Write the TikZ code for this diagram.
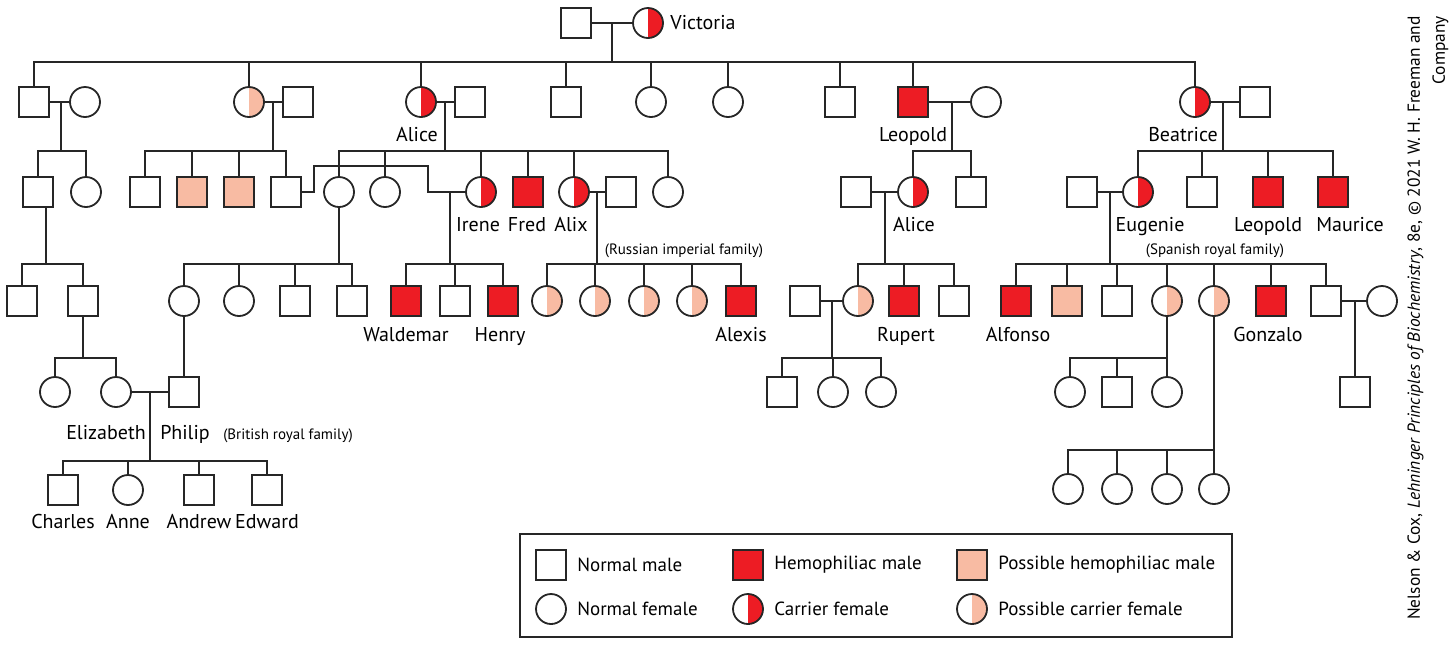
\documentclass[tikz,border=0pt]{standalone}
\usepackage{fontspec}
\setmainfont{PT Sans}
\usetikzlibrary{positioning}
\definecolor{hemored}{RGB}{237,28,36}
\definecolor{hemopink}{RGB}{248,187,163}
\begin{document}
\begin{tikzpicture}[x=0.5pt, y=-0.5pt,
    person/.style={draw=black!85, line width=0.9pt, minimum size=15pt, inner sep=0pt, fill=white},
    male/.style={person, rectangle},
    female/.style={person, circle},
    hemo/.style={male, fill=hemored},
    posshemo/.style={male, fill=hemopink},
    carrier/.style={female, path picture={\fill[hemored] (path picture bounding box.north) rectangle (path picture bounding box.south east);}},
    posscarrier/.style={female, path picture={\fill[hemopink] (path picture bounding box.north) rectangle (path picture bounding box.south east);}},
    tie/.style={draw=black!85, line width=0.9pt},
    lbl/.style={font=\fontsize{10}{12}\selectfont, inner sep=0pt, anchor=base},
    keylbl/.style={font=\fontsize{9.5}{11}\selectfont, inner sep=0pt},
    famnote/.style={font=\fontsize{7.5}{9}\selectfont, inner sep=0pt, anchor=base}
  ]
  \useasboundingbox (0,0) rectangle (1454,645);

  % Victoria and Albert
  \node[male] (albert) at (576,23) {};
  \node[carrier] (victoria) at (648,23) {};
  \node[lbl, anchor=base west] (lVictoria) at (670,29) {Victoria};
  \coordinate (mV) at (612,23);
  \coordinate (bV) at (612,62);

  % Their children and spouses
  \node[male] (edward7) at (34,102) {};
  \node[female] (alexandra) at (85,102) {};
  \node[posscarrier] (vicky) at (249,102) {};
  \node[male] (fritz) at (298,102) {};
  \node[carrier] (alice) at (421,102) {};
  \node[male] (louis) at (470,102) {};
  \node[male] (alfred) at (566,102) {};
  \node[female] (helena) at (651,102) {};
  \node[female] (louise) at (728,102) {};
  \node[male] (arthur) at (840,102) {};
  \node[hemo] (leopold) at (913,102) {};
  \node[female] (helene) at (986,102) {};
  \node[carrier] (beatrice) at (1195,102) {};
  \node[male] (henryB) at (1255,102) {};
  \node[lbl] (lAlice) at (417,141) {Alice};
  \node[lbl] (lLeopold) at (913,141) {Leopold};
  \node[lbl] (lBeatrice) at (1183,141) {Beatrice};

  \draw[tie] (albert) -- (victoria);
  \draw[tie] (mV) -- (bV) (edward7.north) |- (bV) -| (beatrice.north);
  \foreach \c in {vicky,alice,alfred,helena,louise,arthur,leopold}
    \draw[tie] (\c.north) -- (\c.north |- bV);

  % Grandchildren
  \node[male] (georgeV) at (38,192) {};
  \node[female] (maud) at (86,192) {};
  \node[male] (wilhelm) at (145,192) {};
  \node[posshemo] (sigismund) at (192,192) {};
  \node[posshemo] (waldemarP) at (239,192) {};
  \node[male] (henryP) at (286,192) {};
  \node[female] (victoriaH) at (339,192) {};
  \node[female] (ella) at (385,192) {};
  \node[carrier] (irene) at (481,192) {};
  \node[hemo] (fred) at (528,192) {};
  \node[carrier] (alix) at (574,192) {};
  \node[male] (nicholas) at (621,192) {};
  \node[female] (mary) at (668,192) {};
  \node[male] (alexander) at (856,192) {};
  \node[carrier] (alice2) at (913,192) {};
  \node[male] (charles2) at (971,192) {};
  \node[male] (alfonso13) at (1082,192) {};
  \node[carrier] (eugenie) at (1138,192) {};
  \node[male] (alexanderB) at (1202,192) {};
  \node[hemo] (leopoldB) at (1268,192) {};
  \node[hemo] (maurice) at (1333,192) {};
  \node[lbl] (lIrene) at (478,231) {Irene};
  \node[lbl] (lFred) at (527,231) {Fred};
  \node[lbl] (lAlix) at (571,231) {Alix};
  \node[lbl] (lAlice2) at (914,231) {Alice};
  \node[lbl] (lEugenie) at (1150,231) {Eugenie};
  \node[lbl] (lLeopold2) at (1268,231) {Leopold};
  \node[lbl] (lMaurice) at (1350,231) {Maurice};
  \node[famnote] (nRussia) at (684,254) {(Russian imperial family)};
  \node[famnote] (nSpain) at (1215,254) {(Spanish royal family)};

  \coordinate (mE) at (61,102);  \coordinate (bE) at (61,151);
  \coordinate (mVk) at (273,102); \coordinate (bVk) at (273,151);
  \coordinate (mA) at (445,102); \coordinate (bA) at (445,151);
  \coordinate (mL) at (952,102); \coordinate (bL) at (952,151);
  \coordinate (mB) at (1223,102); \coordinate (bB) at (1223,151);

  \draw[tie] (edward7) -- (alexandra);
  \draw[tie] (mE) -- (bE) (georgeV.north) |- (bE) -| (maud.north);

  \draw[tie] (vicky) -- (fritz);
  \draw[tie] (mVk) -- (bVk) (wilhelm.north) |- (bVk) -| (henryP.north);
  \foreach \c in {sigismund,waldemarP}
    \draw[tie] (\c.north) -- (\c.north |- bVk);

  \draw[tie] (alice) -- (louis);
  \draw[tie] (mA) -- (bA) (victoriaH.north) |- (bA) -| (mary.north);
  \foreach \c in {ella,irene,fred,alix}
    \draw[tie] (\c.north) -- (\c.north |- bA);

  \draw[tie] (leopold) -- (helene);
  \draw[tie] (mL) -- (bL) (alice2.north) |- (bL) -| (charles2.north);

  \draw[tie] (beatrice) -- (henryB);
  \draw[tie] (mB) -- (bB) (eugenie.north) |- (bB) -| (maurice.north);
  \foreach \c in {alexanderB,leopoldB}
    \draw[tie] (\c.north) -- (\c.north |- bB);

  % Marriages among the grandchildren
  \coordinate (jog1) at (314,166);
  \coordinate (jog2) at (428,166);
  \draw[tie] (henryP.east) -| (jog1) -- (jog2) |- (irene.west);
  \draw[tie] (alix) -- (nicholas);
  \draw[tie] (alexander) -- (alice2);
  \draw[tie] (alfonso13) -- (eugenie);

  % Great-grandchildren
  \node[male] (edward8) at (22,301) {};
  \node[male] (george6) at (83,301) {};
  \node[female] (aliceB) at (184,301) {};
  \node[female] (louiseB) at (239,301) {};
  \node[male] (georgeB) at (295,301) {};
  \node[male] (louisB) at (352,301) {};
  \node[hemo] (waldemar) at (406,301) {};
  \node[male] (sigismundH) at (455,301) {};
  \node[hemo] (henryH) at (503,301) {};
  \node[posscarrier] (olga) at (547,301) {};
  \node[posscarrier] (tatiana) at (595,301) {};
  \node[posscarrier] (maria) at (644,301) {};
  \node[posscarrier] (anastasia) at (692,301) {};
  \node[hemo] (alexis) at (741,301) {};
  \node[male] (henryA) at (805,301) {};
  \node[posscarrier] (may) at (858,301) {};
  \node[hemo] (rupert) at (904,301) {};
  \node[male] (mauriceA) at (954,301) {};
  \node[hemo] (alfonso) at (1016,301) {};
  \node[posshemo] (jaime) at (1067,301) {};
  \node[male] (fernando) at (1117,301) {};
  \node[posscarrier] (beatriz) at (1167,301) {};
  \node[posscarrier] (cristina) at (1214,301) {};
  \node[hemo] (gonzalo) at (1271,301) {};
  \node[male] (juan) at (1326,301) {};
  \node[female] (mercedes) at (1382,301) {};
  \node[lbl] (lWaldemar) at (406,341) {Waldemar};
  \node[lbl] (lHenry) at (500,341) {Henry};
  \node[lbl] (lAlexis) at (741,341) {Alexis};
  \node[lbl] (lRupert) at (906,341) {Rupert};
  \node[lbl] (lAlfonso) at (1018,341) {Alfonso};
  \node[lbl] (lGonzalo) at (1268,341) {Gonzalo};

  \coordinate (bG) at (46,264);
  \coordinate (bH) at (339,264);
  \coordinate (mHI) at (450,192); \coordinate (bI) at (450,264);
  \coordinate (mAN) at (597,192); \coordinate (bR) at (597,264);
  \coordinate (mAA) at (885,192); \coordinate (bAt) at (885,264);
  \coordinate (mEA) at (1110,192); \coordinate (bS) at (1110,264);

  \draw[tie] ([xshift=4pt]georgeV.south) -- (bG) (edward8.north) |- (bG) -| (george6.north);

  \draw[tie] (victoriaH.south) -- (bH) (aliceB.north) |- (bH) -| (louisB.north);
  \foreach \c in {louiseB,georgeB}
    \draw[tie] (\c.north) -- (\c.north |- bH);

  \draw[tie] (mHI) -- (bI) (waldemar.north) |- (bI) -| (henryH.north);
  \draw[tie] (sigismundH.north) -- (sigismundH.north |- bI);

  \draw[tie] (mAN) -- (bR) (olga.north) |- (bR) -| (alexis.north);
  \foreach \c in {tatiana,maria,anastasia}
    \draw[tie] (\c.north) -- (\c.north |- bR);

  \draw[tie] (mAA) -- (bAt) (may.north) |- (bAt) -| (mauriceA.north);
  \draw[tie] (rupert.north) -- (rupert.north |- bAt);

  \draw[tie] (mEA) -- (bS) (alfonso.north) |- (bS) -| (juan.north);
  \foreach \c in {jaime,fernando,beatriz,cristina,gonzalo}
    \draw[tie] (\c.north) -- (\c.north |- bS);

  \draw[tie] (henryA) -- (may);
  \draw[tie] (juan) -- (mercedes);

  % Next generation
  \node[female] (margaret) at (55,392) {};
  \node[female] (elizabeth) at (116,392) {};
  \node[male] (philip) at (184,392) {};
  \node[male] (may1) at (782,392) {};
  \node[female] (may2) at (833,392) {};
  \node[female] (may3) at (881,392) {};
  \node[female] (bz1) at (1070,392) {};
  \node[male] (bz2) at (1117,392) {};
  \node[female] (bz3) at (1167,392) {};
  \node[male] (juanC) at (1355,392) {};
  \node[lbl] (lElizabeth) at (106,439) {Elizabeth};
  \node[lbl] (lPhilip) at (185,439) {Philip};
  \node[famnote] (nBritain) at (288,439) {(British royal family)};

  \coordinate (bG6) at (83,358);
  \coordinate (mMH) at (832,301); \coordinate (bMH) at (832,358);
  \coordinate (bBz) at (1167,358);
  \coordinate (mJM) at (1355,301);

  \draw[tie] (george6.south) -- (bG6) (margaret.north) |- (bG6) -| (elizabeth.north);
  \draw[tie] (aliceB) -- (philip);
  \draw[tie] (elizabeth) -- (philip);
  \draw[tie] (mMH) -- (bMH) (may1.north) |- (bMH) -| (may3.north);
  \draw[tie] (may2.north) -- (may2.north |- bMH);
  \draw[tie] (beatriz.south) -- (bBz) (bz1.north) |- (bBz) -| (bz3.north);
  \draw[tie] (bz2.north) -- (bz2.north |- bBz);
  \draw[tie] (mJM) -- (juanC);

  % Youngest generation
  \node[male] (charles) at (63,490) {};
  \node[female] (anne) at (128,490) {};
  \node[male] (andrew) at (199,490) {};
  \node[male] (edward) at (267,490) {};
  \node[female] (cr1) at (1068,489) {};
  \node[female] (cr2) at (1117,489) {};
  \node[female] (cr3) at (1167,489) {};
  \node[female] (cr4) at (1214,489) {};
  \node[lbl] (lCharles) at (63,528) {Charles};
  \node[lbl] (lAnne) at (128,528) {Anne};
  \node[lbl] (lAndrew) at (199,528) {Andrew};
  \node[lbl] (lEdward) at (267,528) {Edward};

  \coordinate (mEP) at (150,392); \coordinate (bEP) at (150,461);
  \coordinate (bC) at (1214,450);
  \draw[tie] (mEP) -- (bEP) (charles.north) |- (bEP) -| (edward.north);
  \foreach \c in {anne,andrew}
    \draw[tie] (\c.north) -- (\c.north |- bEP);
  \draw[tie] (cristina.south) -- (bC) (cr1.north) |- (bC) -| (cr4.north);
  \foreach \c in {cr2,cr3}
    \draw[tie] (\c.north) -- (\c.north |- bC);

  % Legend
  \draw[tie] (520,534) rectangle (1232,637);
  \foreach \st/\x/\y/\txt [count=\i] in {male/551/565/Normal male, female/551/609/Normal female,
      hemo/748/565/Hemophiliac male, carrier/748/609/Carrier female,
      posshemo/972/565/Possible hemophiliac male, posscarrier/972/609/Possible carrier female} {
    \node[\st] (key\i) at (\x,\y) {};
    \node[keylbl, right=5pt of key\i] (keytxt\i) {\txt};
  }

  % Credit line
  \node[rotate=90, align=right, inner sep=0pt, font=\fontsize{8.7}{12.5}\selectfont] (credit) at (1428,318)
    {Nelson \& Cox, \textit{Lehninger Principles of Biochemistry}, 8e, \textcopyright{} 2021 W. H. Freeman and\\Company};

\end{tikzpicture}
\end{document}
